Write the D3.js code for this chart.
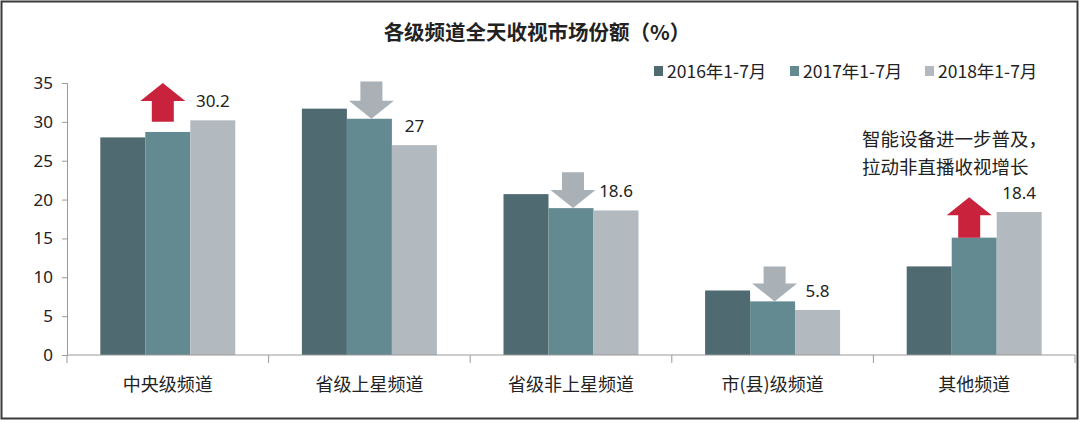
<!DOCTYPE html>
<html><head><meta charset="utf-8">
<script src="https://cdn.jsdelivr.net/npm/d3@7"></script>
<style>
html,body{margin:0;padding:0;background:#fff;}
svg{display:block;}
text{font-family:"Noto Sans CJK SC","Noto Sans",sans-serif;fill:#222;}
</style></head>
<body>
<svg id="chart" width="1080" height="423"></svg>
<script>
// ---- data ----
const title = "各级频道全天收视市场份额（%）";
const categories = ["中央级频道","省级上星频道","省级非上星频道","市(县)级频道","其他频道"];
const seriesNames = ["2016年1-7月","2017年1-7月","2018年1-7月"];
const s2016 = [28.0, 31.7, 20.7, 8.3, 11.4];
const s2017 = [28.7, 30.4, 18.9, 6.9, 15.1];
const s2018 = [30.2, 27, 18.6, 5.8, 18.4];
const labels2018 = ["30.2","27","18.6","5.8","18.4"];
const yTicks = [0,5,10,15,20,25,30,35];
// arrows: direction, start value (tail), end value (tip)
const arrowDir  = ["up","down","down","down","up"];
const arrowFrom = [30.0, 35.2, 23.5, 11.4, 15.1];
const arrowTo   = [35.0, 30.4, 18.9, 6.9, 20.3];
const noteLines = ["智能设备进一步普及，","拉动非直播收视增长"];

const colors = ["#4f6a70","#638a90","#b2b9bf"];
const arrowColors = {up:"#c8223d", down:"#a9b0b6"};

const svg = d3.select("#chart");
const W = 1080, H = 423;
const m = {left:67, right:1075, top:83, bottom:355};

svg.append("rect").attr("x",0).attr("y",0).attr("width",W).attr("height",H).attr("fill","#fff");

const x0 = d3.scaleBand().domain(categories).range([m.left, m.right]).paddingInner(0).paddingOuter(0);
const groupPad = 33.3;
const x1 = d3.scaleBand().domain(seriesNames).range([groupPad, x0.bandwidth()-groupPad]).padding(0);
const y = d3.scaleLinear().domain([0,35]).range([m.bottom, m.top]);

const series = [s2016, s2017, s2018];

// bars
const g = svg.append("g");
series.forEach((vals, si) => {
  g.selectAll(".bar"+si).data(vals).join("rect")
    .attr("x",(d,i)=>x0(categories[i]) + x1(seriesNames[si]))
    .attr("y",d=>y(d))
    .attr("width",x1.bandwidth())
    .attr("height",d=>y(0)-y(d))
    .attr("fill",colors[si]);
});

// axes
const yAxis = d3.axisLeft(y).tickValues(yTicks).tickSize(5).tickPadding(9);
const ya = svg.append("g").attr("transform",`translate(${m.left},0)`).call(yAxis);
ya.select(".domain").attr("stroke","#9a9a9a");
ya.selectAll(".tick line").attr("stroke","#9a9a9a");
ya.selectAll(".tick text").style("font-size","17px").style("font-family","'Noto Sans',sans-serif").attr("fill","#222");

// x axis line + boundary ticks
svg.append("line").attr("x1",m.left).attr("x2",m.right).attr("y1",y(0)).attr("y2",y(0)).attr("stroke","#9a9a9a");
const bounds = categories.map(c=>x0(c)).concat([m.right]);
svg.selectAll(".xt").data(bounds).join("line")
  .attr("x1",d=>d).attr("x2",d=>d).attr("y1",y(0)).attr("y2",y(0)+8).attr("stroke","#9a9a9a");
svg.selectAll(".xl").data(categories).join("text")
  .attr("x",d=>x0(d)+x0.bandwidth()/2).attr("y",391)
  .attr("text-anchor","middle").style("font-size","18px").text(d=>d);

// value labels for 2018
svg.selectAll(".vl").data(s2018).join("text")
  .attr("x",(d,i)=>x0(categories[i]) + x1(seriesNames[2]) + x1.bandwidth()/2)
  .attr("y",d=>y(d)-13)
  .attr("text-anchor","middle").style("font-size","17px").style("font-family","'Noto Sans',sans-serif")
  .text((d,i)=>labels2018[i]);

// arrows
const headW = 45, stemW = 22, headH = 18;
categories.forEach((c,i)=>{
  const dir = arrowDir[i];
  const cx = x0(c) + x1(seriesNames[1]) + x1.bandwidth()/2 + (dir==="up" ? -5 : 2);
  const yt = y(arrowFrom[i]), yp = y(arrowTo[i]);
  const s = dir==="up" ? -1 : 1; // tip direction
  const yb = yp - s*headH; // head base
  const pts = [
    [cx-stemW/2, yt],[cx+stemW/2, yt],[cx+stemW/2, yb],[cx+headW/2, yb],
    [cx, yp],[cx-headW/2, yb],[cx-stemW/2, yb]
  ];
  svg.append("path").attr("d", d3.line()(pts)+"Z").attr("fill", arrowColors[dir]);
});

// title
svg.append("text").attr("x",537).attr("y",40).attr("text-anchor","middle")
  .style("font-size","20.5px").style("font-weight","bold").text(title);

// legend
const legX = [654, 790, 925];
seriesNames.forEach((n,i)=>{
  svg.append("rect").attr("x",legX[i]).attr("y",66).attr("width",9).attr("height",10).attr("fill",colors[i]);
  svg.append("text").attr("x",legX[i]+13).attr("y",78).style("font-size","17.5px").text(n);
});

// note
svg.selectAll(".note").data(noteLines).join("text")
  .attr("x",862).attr("y",(d,i)=>146+i*27.5).style("font-size","18.5px").text(d=>d);

// frame
svg.append("rect").attr("x",1.5).attr("y",1.5).attr("width",W-4).attr("height",H-6)
  .attr("fill","none").attr("stroke","#3a3a3a").attr("stroke-width",2);
</script>
</body></html>
